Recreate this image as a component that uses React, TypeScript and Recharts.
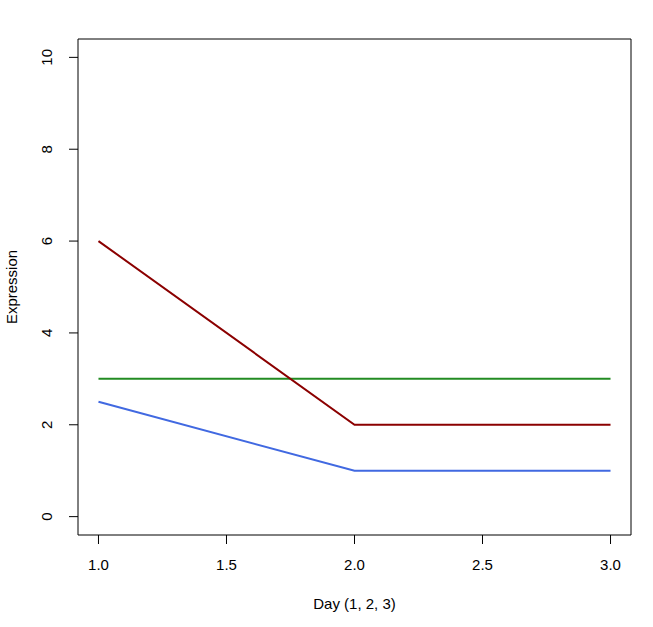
import React from 'react';
import {
  Label,
  Line,
  LineChart,
  ReferenceArea,
  XAxis,
  YAxis,
} from 'recharts';

const days = [1, 2, 3];
const redValues = [6, 2, 2];
const greenValues = [3, 3, 3];
const blueValues = [2.5, 1, 1];
const xTicks = [1, 1.5, 2, 2.5, 3];
const yTicks = [0, 2, 4, 6, 8, 10];

const data = days.map((d, i) => ({
  day: d,
  red: redValues[i],
  green: greenValues[i],
  blue: blueValues[i],
}));

const FONT = 'Liberation Sans, Arial, sans-serif';

const XTick = (props: any) => {
  const { x, payload } = props;
  return (
    <text x={x} y={570} textAnchor="middle" fontFamily={FONT} fontSize={15} fill="#000">
      {payload.value.toFixed(1)}
    </text>
  );
};

const YTick = (props: any) => {
  const { y, payload } = props;
  return (
    <text
      x={52}
      y={y}
      textAnchor="middle"
      fontFamily={FONT}
      fontSize={15}
      fill="#000"
      transform={`rotate(-90, 52, ${y})`}
    >
      {payload.value}
    </text>
  );
};

export default function App() {
  return (
    <div style={{ position: 'absolute', left: 0, top: 0, background: '#fff' }}>
      <LineChart
        width={653}
        height={627}
        data={data}
        margin={{ top: 39, right: 22, bottom: 0, left: 0 }}
      >
        <XAxis
          dataKey="day"
          type="number"
          domain={[0.92, 3.08]}
          ticks={xTicks}
          axisLine={false}
          tickLine={{ stroke: '#000' }}
          tickSize={9}
          tick={<XTick />}
          height={92}
        >
          <Label
            content={() => (
              <text x={354.5} y={609} textAnchor="middle" fontFamily={FONT} fontSize={15} fill="#000">
                Day (1, 2, 3)
              </text>
            )}
          />
        </XAxis>
        <YAxis
          type="number"
          domain={[-0.4, 10.4]}
          ticks={yTicks}
          axisLine={false}
          tickLine={{ stroke: '#000' }}
          tickSize={9}
          tick={<YTick />}
          width={78}
        >
          <Label
            content={() => (
              <text
                x={17}
                y={287}
                textAnchor="middle"
                fontFamily={FONT}
                fontSize={15}
                fill="#000"
                transform="rotate(-90, 17, 287)"
              >
                Expression
              </text>
            )}
          />
        </YAxis>
        <ReferenceArea
          x1={0.92}
          x2={3.08}
          y1={-0.4}
          y2={10.4}
          fill="none"
          stroke="#000"
          strokeWidth={1}
          fillOpacity={0}
          strokeOpacity={1}
        />
        <Line dataKey="green" stroke="#228B22" strokeWidth={2} dot={false} isAnimationActive={false} />
        <Line dataKey="blue" stroke="#4169E1" strokeWidth={2} dot={false} isAnimationActive={false} />
        <Line dataKey="red" stroke="#8B0000" strokeWidth={2} dot={false} isAnimationActive={false} />
      </LineChart>
    </div>
  );
}
